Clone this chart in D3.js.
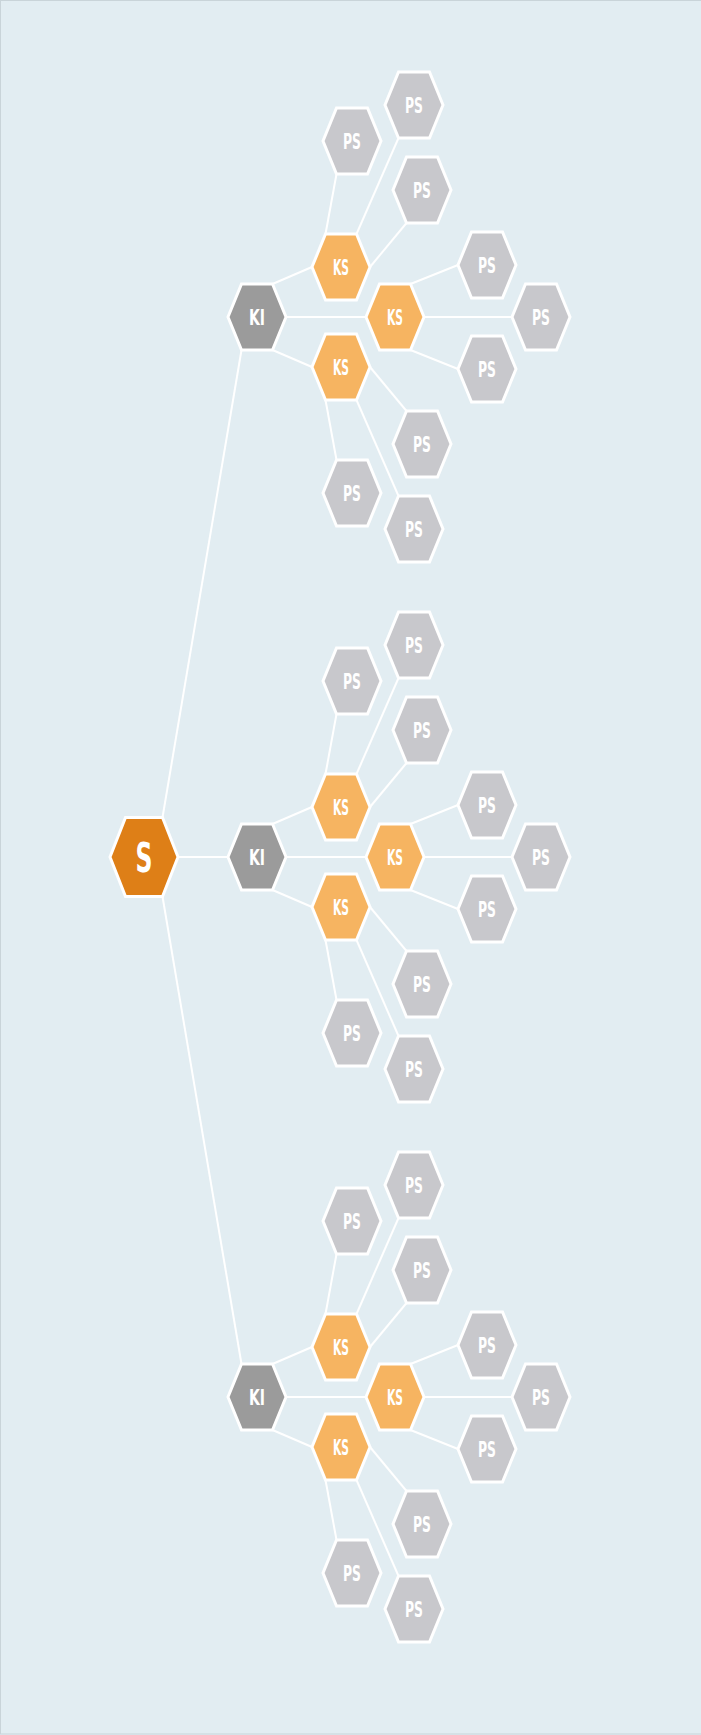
<!DOCTYPE html>
<html>
<head>
<meta charset="utf-8">
<script src="https://cdn.jsdelivr.net/npm/d3@7"></script>
<style>
  html, body { margin: 0; padding: 0; background: #e2edf2; }
  svg { display: block; }
  .lbl { font-family: "Liberation Sans Narrow", "DejaVu Sans Condensed", "Liberation Sans", sans-serif; font-weight: bold; fill: #fff; }
</style>
</head>
<body>
<div id="chart"></div>
<script>
// hierarchy labels
const rootName = "S";
const groupNames = ["KI", "KI", "KI"];
const branchNames = ["KS", "KS", "KS"];
const leafNames = ["PS", "PS", "PS"];

const W = 701, H = 1735;

// layout of one cluster (offsets in px from the parent, and which hex corner the link uses)
// corners: 0 right, 1 bottom-right, 2 bottom-left, 3 left, 4 top-left, 5 top-right
const groupPorts = [[5, 2], [0, 3], [1, 4]];
const branchSlots = [
  { dx: 84, dy: -50, from: 5, to: 3 },
  { dx: 138, dy: 0, from: 0, to: 3 },
  { dx: 84, dy: 50, from: 1, to: 3 }
];
const leafSlots = [
  [{ dx: 11, dy: -126, from: 4, to: 2 }, { dx: 73, dy: -162, from: 5, to: 2 }, { dx: 81, dy: -77, from: 0, to: 2 }],
  [{ dx: 92, dy: -52, from: 5, to: 3 }, { dx: 146, dy: 0, from: 0, to: 3 }, { dx: 92, dy: 52, from: 1, to: 3 }],
  [{ dx: 81, dy: 77, from: 0, to: 4 }, { dx: 11, dy: 126, from: 2, to: 4 }, { dx: 73, dy: 162, from: 1, to: 4 }]
];

const colors = { 0: "#de7f17", 1: "#9b9b9b", 2: "#f6b461", 3: "#c8c8cc" };
const shapes = {
  big: { rx: 34, ry: 39.5, t: 18.5 },
  small: { rx: 29, ry: 33, t: 15.5 }
};

function corners(s) {
  return [[s.rx, 0], [s.t, s.ry], [-s.t, s.ry], [-s.rx, 0], [-s.t, -s.ry], [s.t, -s.ry]];
}

// build tree
const treeData = {
  name: rootName,
  children: groupNames.map(g => ({
    name: g,
    children: branchNames.map(b => ({
      name: b,
      children: leafNames.map(l => ({ name: l }))
    }))
  }))
};
const root = d3.hierarchy(treeData);

const xDepth = d3.scalePoint().domain([0, 1]).range([144, 257]);
const yGroup = d3.scalePoint().domain(d3.range(groupNames.length)).range([317, 1397]);

root.x = xDepth(0);
root.y = yGroup(1);
root.shape = shapes.big;
root.children.forEach((g, gi) => {
  g.x = xDepth(1);
  g.y = yGroup(gi);
  g.shape = shapes.small;
  g.port = groupPorts[gi];
  g.children.forEach((b, bi) => {
    const s = branchSlots[bi];
    b.x = g.x + s.dx;
    b.y = g.y + s.dy;
    b.shape = shapes.small;
    b.port = [s.from, s.to];
    b.children.forEach((p, pi) => {
      const ls = leafSlots[bi][pi];
      p.x = b.x + ls.dx;
      p.y = b.y + ls.dy;
      p.shape = shapes.small;
      p.port = [ls.from, ls.to];
    });
  });
});

const svg = d3.select("#chart").append("svg")
  .attr("width", W)
  .attr("height", H);

svg.append("rect")
  .attr("x", 0.5).attr("y", 0.5)
  .attr("width", W + 2).attr("height", H - 1.5)
  .attr("fill", "#e2edf2")
  .attr("stroke", "#c9d4d9")
  .attr("stroke-width", 1);

// links, vertex to vertex
svg.append("g")
  .selectAll("line")
  .data(root.links())
  .join("line")
  .attr("x1", d => d.source.x + corners(d.source.shape)[d.target.port[0]][0])
  .attr("y1", d => d.source.y + corners(d.source.shape)[d.target.port[0]][1])
  .attr("x2", d => d.target.x + corners(d.target.shape)[d.target.port[1]][0])
  .attr("y2", d => d.target.y + corners(d.target.shape)[d.target.port[1]][1])
  .attr("stroke", "#fff")
  .attr("stroke-width", 2);

const line = d3.line();
const node = svg.append("g")
  .selectAll("g")
  .data(root.descendants())
  .join("g")
  .attr("transform", d => `translate(${d.x},${d.y})`);

node.append("path")
  .attr("d", d => line(corners(d.shape)) + "Z")
  .attr("fill", d => colors[d.depth])
  .attr("stroke", "#fff")
  .attr("stroke-width", 3);

node.append("text")
  .attr("class", "lbl")
  .attr("text-anchor", "middle")
  .attr("font-size", d => d.depth === 0 ? 40 : 21)
  .attr("y", d => d.depth === 0 ? 14.5 : 7.5)
  .attr("textLength", d => d.depth === 0 ? 17 : (d.depth === 3 ? 18 : 16))
  .attr("lengthAdjust", "spacingAndGlyphs")
  .text(d => d.data.name);
</script>
</body>
</html>
